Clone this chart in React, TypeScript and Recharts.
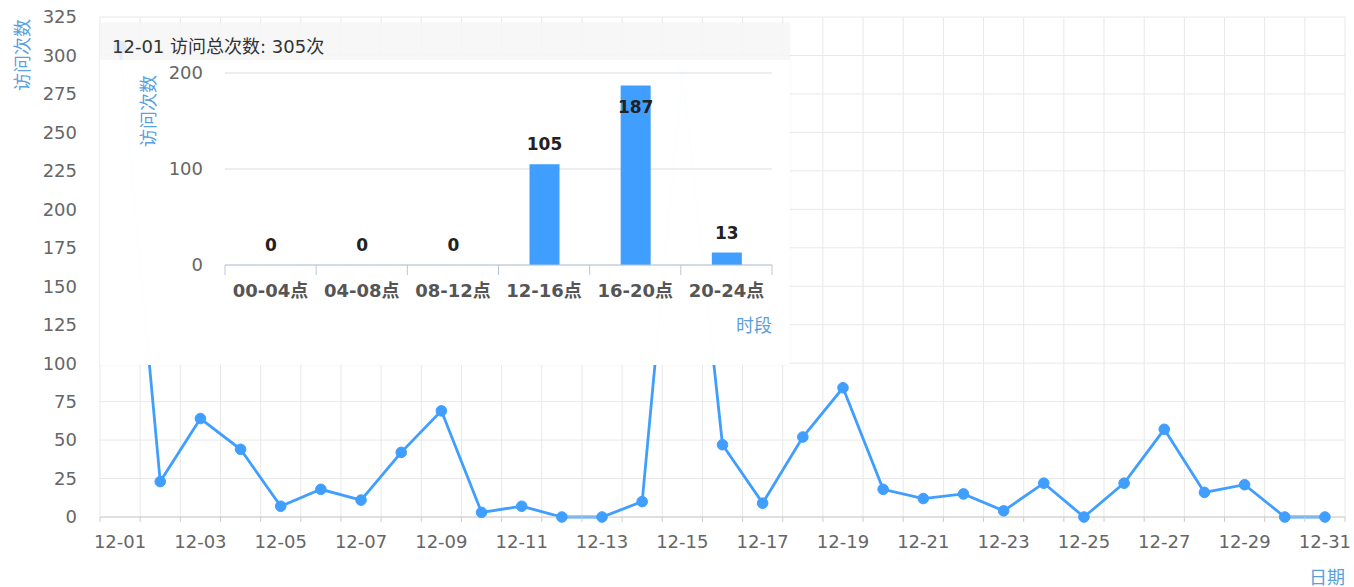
import React from "react";
import {
  Bar,
  BarChart,
  CartesianGrid,
  LabelList,
  Line,
  LineChart,
  Tooltip,
  XAxis,
  YAxis,
} from "recharts";

const DATES = [
  "12-01", "12-02", "12-03", "12-04", "12-05", "12-06", "12-07", "12-08",
  "12-09", "12-10", "12-11", "12-12", "12-13", "12-14", "12-15", "12-16",
  "12-17", "12-18", "12-19", "12-20", "12-21", "12-22", "12-23", "12-24",
  "12-25", "12-26", "12-27", "12-28", "12-29", "12-30", "12-31",
];
const DAILY_VISITS = [
  305, 23, 64, 44, 7, 18, 11, 42, 69, 3, 7, 0, 0, 10, 290, 47,
  9, 52, 84, 18, 12, 15, 4, 22, 0, 22, 57, 16, 21, 0, 0,
];
const VISIT_TICKS = [0, 25, 50, 75, 100, 125, 150, 175, 200, 225, 250, 275, 300, 325];

// breakdown of 12-01 shown in the pinned tooltip
const PERIODS = ["00-04点", "04-08点", "08-12点", "12-16点", "16-20点", "20-24点"];
const PERIOD_VISITS = [0, 0, 0, 105, 187, 13];
const PERIOD_TICKS = [0, 100, 200];

const dailyRows = DATES.map((date, i) => ({ date, visits: DAILY_VISITS[i] }));
const periodRows = PERIODS.map((period, i) => ({ period, visits: PERIOD_VISITS[i] }));

const FONT = '"DejaVu Sans", "Noto Sans CJK SC", sans-serif';
const BLUE = "#409eff";
const NAME_BLUE = "#5b9fdc";

const WIDTH = 1354;
const HEIGHT = 587;
const Y_AXIS_W = 100;
const RIGHT = 9;
const STEP = (WIDTH - Y_AXIS_W - RIGHT) / DATES.length;

const TIP_W = 690;
const TIP_H = 342;
const HEAD_H = 37;
const INNER_Y_W = 125;
const INNER_RIGHT = 18;
const INNER_STEP = (TIP_W - INNER_Y_W - INNER_RIGHT) / PERIODS.length;

function AxisName(props: any) {
  const { viewBox, text, dx = 0, dy = 0, fromRight, rotate } = props;
  if (!viewBox) return null;
  const x = (fromRight ? viewBox.x + viewBox.width : viewBox.x) + dx;
  const y = viewBox.y + dy;
  return (
    <text
      x={x}
      y={y}
      fill={NAME_BLUE}
      fontSize={18}
      fontFamily={FONT}
      textAnchor={rotate ? "middle" : fromRight ? "end" : "start"}
      dominantBaseline="central"
      transform={rotate ? `rotate(-90 ${x} ${y})` : undefined}
    >
      {text}
    </text>
  );
}

function DateTick(props: any) {
  const { x, y, payload, index } = props;
  const half = STEP / 2;
  return (
    <g>
      <line x1={x - half} x2={x - half} y1={y} y2={y + 5} stroke="#ccc" />
      {index === DATES.length - 1 && (
        <line x1={x + half} x2={x + half} y1={y} y2={y + 5} stroke="#ccc" />
      )}
      {index % 2 === 0 && (
        <text
          x={x}
          y={y + 24}
          textAnchor="middle"
          dominantBaseline="central"
          fill="#666"
          fontSize={18}
          fontFamily={FONT}
        >
          {payload.value}
        </text>
      )}
    </g>
  );
}

function PeriodTick(props: any) {
  const { x, y, payload, index } = props;
  const half = INNER_STEP / 2;
  return (
    <g>
      <line x1={x - half} x2={x - half} y1={y} y2={y + 10} stroke="#b8c7d6" />
      {index === PERIODS.length - 1 && (
        <line x1={x + half} x2={x + half} y1={y} y2={y + 10} stroke="#b8c7d6" />
      )}
      <text
        x={x}
        y={y + 25}
        textAnchor="middle"
        dominantBaseline="central"
        fill="#555"
        fontWeight="bold"
        fontSize={18}
        fontFamily={FONT}
      >
        {payload.value}
      </text>
    </g>
  );
}

function BarValue(props: any) {
  const box = props.viewBox ?? props;
  const { x, y, width } = box;
  if (x == null || y == null) return null;
  // labels that would leave the plot are tucked inside the bar
  const cy = y - 20 < 16 ? y + 22 : y - 20;
  return (
    <text
      x={x + width / 2}
      y={cy}
      textAnchor="middle"
      dominantBaseline="central"
      fill="#222"
      fontWeight="bold"
      fontSize={17}
      fontFamily={FONT}
    >
      {String(props.value)}
    </text>
  );
}

function DayTooltip({ active, payload, label }: any) {
  if (!active || !payload || !payload.length) return null;
  return (
    <div
      style={{
        width: TIP_W,
        height: TIP_H,
        fontFamily: FONT,
        boxShadow: "0 0 2px rgba(0,0,0,0.06)",
      }}
    >
      <div
        style={{
          height: HEAD_H,
          boxSizing: "border-box",
          paddingTop: 15,
          paddingLeft: 12,
          lineHeight: "18px",
          fontSize: 18,
          color: "#333",
          background: "rgba(246,246,246,0.88)",
          whiteSpace: "nowrap",
        }}
      >
        {label} 访问总次数: {payload[0].value}次
      </div>
      <div style={{ background: "rgba(255,255,255,0.985)" }}>
        <BarChart
          width={TIP_W}
          height={TIP_H - HEAD_H}
          data={periodRows}
          margin={{ top: 13, right: INNER_RIGHT, bottom: 0, left: 0 }}
        >
          <CartesianGrid vertical={false} stroke="#ddd" />
          <XAxis
            dataKey="period"
            height={100}
            interval={0}
            axisLine={{ stroke: "#b8c7d6" }}
            tickLine={false}
            tickSize={0}
            tickMargin={0}
            tick={<PeriodTick />}
            label={<AxisName text="时段" fromRight dy={60} />}
          />
          <YAxis
            domain={[0, 200]}
            ticks={PERIOD_TICKS}
            width={INNER_Y_W}
            axisLine={false}
            tickLine={false}
            tickSize={0}
            tickMargin={22}
            tick={{ fill: "#666", fontSize: 18, fontFamily: FONT }}
            label={<AxisName text="访问次数" rotate dx={48} dy={38} />}
          />
          <Bar dataKey="visits" fill={BLUE} barSize={30} minPointSize={0.01} isAnimationActive={false}>
            <LabelList dataKey="visits" content={<BarValue />} />
          </Bar>
        </BarChart>
      </div>
    </div>
  );
}

export default function App() {
  return (
    <div style={{ position: "absolute", left: 0, top: 0, width: WIDTH, height: HEIGHT, background: "#fff" }}>
      <LineChart
        width={WIDTH}
        height={HEIGHT}
        data={dailyRows}
        margin={{ top: 17, right: RIGHT, bottom: 0, left: 0 }}
      >
        <CartesianGrid
          stroke="#e8e8e8"
          verticalCoordinatesGenerator={({ offset }: any) =>
            Array.from({ length: DATES.length + 1 }, (_, i) => offset.left + (i * offset.width) / DATES.length)
          }
        />
        <XAxis
          dataKey="date"
          interval={0}
          padding={{ left: STEP / 2, right: STEP / 2 }}
          height={70}
          axisLine={{ stroke: "#ccc" }}
          tickLine={false}
          tickSize={0}
          tickMargin={0}
          tick={<DateTick />}
          label={<AxisName text="日期" fromRight dy={60} />}
        />
        <YAxis
          domain={[0, 325]}
          ticks={VISIT_TICKS}
          width={Y_AXIS_W}
          axisLine={false}
          tickLine={false}
          tickSize={0}
          tickMargin={23}
          tick={{ fill: "#666", fontSize: 18, fontFamily: FONT }}
          label={<AxisName text="访问次数" rotate dx={22} dy={38} />}
        />
        <Tooltip
          active
          defaultIndex={0}
          cursor={false}
          position={{ x: 100, y: 23 }}
          isAnimationActive={false}
          wrapperStyle={{ zIndex: 10, outline: "none" }}
          content={<DayTooltip />}
        />
        <Line
          type="linear"
          dataKey="visits"
          stroke={BLUE}
          strokeWidth={2.8}
          dot={{ r: 5.3, fill: BLUE, stroke: BLUE, strokeWidth: 1 }}
          activeDot={{ r: 6, fill: BLUE, stroke: BLUE }}
          isAnimationActive={false}
        />
      </LineChart>
    </div>
  );
}
